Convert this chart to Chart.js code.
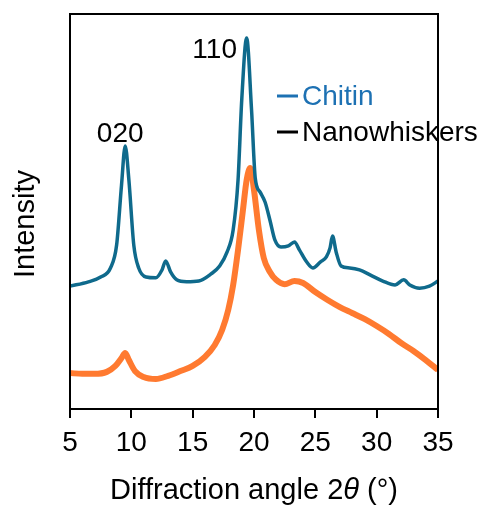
<!DOCTYPE html>
<html><head><meta charset="utf-8">
<style>html,body{margin:0;padding:0;background:#fff}#wrap{width:481px;height:506px}</style>
<script src="https://cdn.jsdelivr.net/npm/chart.js@4/dist/chart.umd.min.js"></script>
</head><body><div id="wrap"><canvas id="c" width="481" height="506"></canvas></div>
<script>
const xTicks = [5, 10, 15, 20, 25, 30, 35];
const seriesNames = ['Chitin', 'Nanowhiskers'];
const peakLabels = [{text:'020', x:9.5}, {text:'110', x:19.4}];

const chitinX = [5.0,6.5,7.5,8.3,8.8,9.2,9.5,9.8,10.2,10.6,11.2,12.0,12.5,12.8,13.2,13.7,14.5,15.5,16.5,17.2,17.8,18.3,18.7,19.0,19.4,19.8,20.1,20.5,20.9,21.3,21.7,22.2,22.8,23.3,23.7,24.3,24.8,25.4,25.9,26.2,26.4,26.7,27.1,27.8,28.6,29.5,30.5,31.5,32.2,32.7,33.5,34.3,35.0];
const chitinY = [31.1,32.2,33.4,35.7,41.5,56.7,66.6,58.0,41.5,35.7,33.4,33.2,35.2,37.5,34.7,32.7,32.2,32.4,34.2,36.2,39.7,45.3,58.0,78.2,93.9,75.7,58.5,54.9,52.4,47.8,42.8,41.0,41.3,42.3,40.3,37.2,35.7,37.2,38.5,40.8,43.8,39.7,36.2,35.7,35.2,33.9,32.4,31.4,32.7,31.4,30.6,31.1,32.4];

const nanoX = [5.0,6.0,7.0,8.0,8.7,9.2,9.5,9.8,10.3,11.0,12.0,13.0,14.0,15.0,16.0,16.8,17.4,17.9,18.3,18.7,19.1,19.4,19.7,20.0,20.4,20.8,21.3,21.8,22.5,23.3,24.0,25.0,26.0,27.0,28.0,29.0,30.0,31.0,32.0,33.0,34.0,35.0];
const nanoY = [9.1,8.9,8.9,9.4,10.9,12.9,14.2,12.4,9.6,8.1,7.6,8.4,9.6,10.9,13.2,16.2,20.0,25.1,31.4,40.3,50.4,58.0,61.0,55.4,45.3,38.2,34.7,32.7,31.6,32.4,31.9,29.6,27.6,25.8,24.3,22.8,21.0,19.0,16.7,14.7,12.4,9.9];

const chitinColor = '#0f6a8c';
const nanoColor = '#ff7a30';
const FONT = '"Liberation Sans", Arial, sans-serif';

const pts = (xs, ys) => xs.map((x, i) => ({x, y: ys[i]}));

const labelOffsets = [[-5, -12], [-32, 12]];

const decor = {
  id: 'decor',
  afterDraw(chart) {
    const ctx = chart.ctx, a = chart.chartArea;
    const xs = chart.scales.x, ys = chart.scales.y;
    ctx.save();
    ctx.strokeStyle = '#000'; ctx.lineWidth = 2;
    ctx.strokeRect(a.left, a.top, a.right - a.left, a.bottom - a.top);
    ctx.fillStyle = '#000'; ctx.font = '28px ' + FONT;
    ctx.textAlign = 'center'; ctx.textBaseline = 'middle';
    const ds = chart.data.datasets[0].data;
    peakLabels.forEach((p, i) => {
      const pt = ds.find(d => d.x === p.x);
      ctx.fillText(p.text, xs.getPixelForValue(p.x) + labelOffsets[i][0], ys.getPixelForValue(pt.y) + labelOffsets[i][1]);
    });
    ctx.font = '28px ' + FONT; ctx.textAlign = 'left';
    const legColors = ['#1d71b3', '#000'];
    seriesNames.forEach((n, i) => {
      const y = 96 + i * 36;
      ctx.strokeStyle = legColors[i]; ctx.lineWidth = 3;
      ctx.beginPath(); ctx.moveTo(277, y); ctx.lineTo(298, y); ctx.stroke();
      ctx.fillStyle = legColors[i];
      ctx.fillText(n, 302, y + 1);
    });
    ctx.fillStyle = '#000'; ctx.font = '29px ' + FONT;
    ctx.translate(26, 224); ctx.rotate(-Math.PI / 2);
    ctx.textAlign = 'center'; ctx.fillText('Intensity', 0, 0);
    ctx.restore();
    ctx.save();
    ctx.fillStyle = '#000'; ctx.textBaseline = 'middle';
    const parts = [['Diffraction angle 2', ''], ['θ', 'italic '], [' (°)', '']];
    let w = 0;
    parts.forEach(p => { ctx.font = p[1] + '29px ' + FONT; w += ctx.measureText(p[0]).width; });
    let x = (a.left + a.right) / 2 - w / 2;
    parts.forEach(p => { ctx.font = p[1] + '29px ' + FONT; ctx.textAlign = 'left'; ctx.fillText(p[0], x, 491); x += ctx.measureText(p[0]).width; });
    ctx.restore();
  }
};

new Chart(document.getElementById('c'), {
  type: 'line',
  data: {
    datasets: [
      {label: seriesNames[0], data: pts(chitinX, chitinY), borderColor: chitinColor, borderWidth: 3.5, pointRadius: 0, cubicInterpolationMode: 'monotone', fill: false},
      {label: seriesNames[1], data: pts(nanoX, nanoY), borderColor: nanoColor, borderWidth: 6, pointRadius: 0, cubicInterpolationMode: 'monotone', fill: false}
    ]
  },
  options: {
    responsive: false, animation: false,
    layout: {padding: {left: 0, right: 43, top: 14, bottom: 0}},
    plugins: {legend: {display: false}, tooltip: {enabled: false}},
    scales: {
      x: {
        type: 'linear', min: 5, max: 35,
        afterBuildTicks: s => { s.ticks = xTicks.map(v => ({value: v})); },
        afterFit: s => { s.height = 97; },
        grid: {display: true, drawOnChartArea: false, drawTicks: true, tickLength: 9, color: '#000', lineWidth: 2},
        border: {display: true, color: '#000', width: 2},
        ticks: {color: '#000', font: {size: 28, family: FONT}, padding: 8, maxRotation: 0}
      },
      y: {
        min: 0, max: 100,
        afterFit: s => { s.width = 70; },
        grid: {display: false},
        border: {display: true, color: '#000', width: 2},
        ticks: {display: false}
      }
    }
  },
  plugins: [decor]
});
</script></body></html>
